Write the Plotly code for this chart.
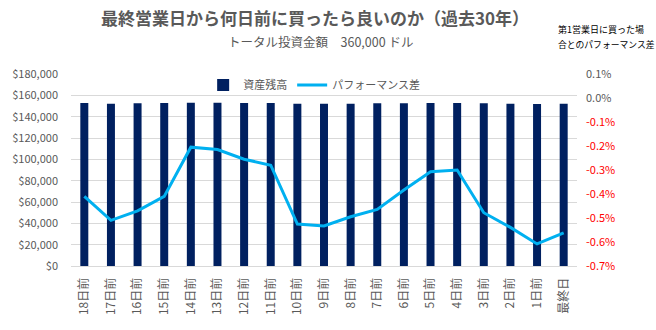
import plotly.graph_objects as go

# Days before the last business day of the month
categories = ["18日前", "17日前", "16日前", "15日前", "14日前", "13日前", "12日前",
              "11日前", "10日前", "9日前", "8日前", "7日前", "6日前", "5日前",
              "4日前", "3日前", "2日前", "1日前", "最終日"]

# Ending balance (USD)
balance = [152700, 152100, 152600, 152700, 153000, 153000, 152900,
           152800, 152000, 152000, 152100, 152500, 152600, 152800,
           152800, 152500, 152100, 151900, 152000]

# Performance gap vs. buying on the 1st business day (%)
perf_gap_pct = [-0.41, -0.51, -0.47, -0.41, -0.205, -0.215, -0.255,
                -0.28, -0.525, -0.533, -0.495, -0.464, -0.383, -0.307,
                -0.30, -0.478, -0.539, -0.608, -0.562]

left_ticks = [0, 20000, 40000, 60000, 80000, 100000, 120000, 140000, 160000, 180000]
right_ticks_pct = [0.1, 0.0, -0.1, -0.2, -0.3, -0.4, -0.5, -0.6, -0.7]

FONT = "Noto Sans CJK JP"
GRAY = "#595959"

# plot area in pixels (for placing the header texts)
L, R, T, B = 63, 79, 74, 64
PW, PH = 656 - L - R, 330 - T - B


def px(x):
    return (x - L) / PW


def py(y):
    return 1 + (T - y) / PH


perf_gap = [v / 100 for v in perf_gap_pct]
right_vals = [v / 100 for v in right_ticks_pct]
right_text = [
    f"<span style='color:#FF0000'>{v:.1f}%</span>" if v < 0 else f"{v:.1f}%"
    for v in right_ticks_pct
]

fig = go.Figure()
fig.add_trace(go.Bar(
    x=categories, y=balance, name="資産残高",
    marker=dict(color="#002060", line=dict(width=0)),
    yaxis="y",
))
fig.add_trace(go.Scatter(
    x=categories, y=perf_gap, name="パフォーマンス差",
    mode="lines", line=dict(color="#00B0F0", width=3),
    yaxis="y2",
))

fig.update_layout(
    width=656, height=330,
    margin=dict(l=L, r=R, t=T, b=B),
    paper_bgcolor="white", plot_bgcolor="white",
    font=dict(family=FONT, size=11, color=GRAY),
    bargap=0.7,
    showlegend=True,
    legend=dict(
        orientation="h", x=px(310), xanchor="center", y=py(85), yanchor="middle",
        bgcolor="rgba(0,0,0,0)", font=dict(size=11, color=GRAY),
        itemwidth=30,
    ),
    xaxis=dict(
        tickangle=-90, showgrid=False, showline=True, linecolor="#D9D9D9",
        linewidth=1, ticks="", tickfont=dict(size=12, color=GRAY),
        ticklabelstandoff=6,
    ),
    yaxis=dict(
        range=[0, 180000], tickvals=left_ticks, tickformat="$,.0f",
        showgrid=True, gridcolor="#D9D9D9", gridwidth=1, zeroline=False,
        ticks="", tickfont=dict(size=11, color=GRAY), ticklabelstandoff=12,
    ),
    yaxis2=dict(
        overlaying="y", side="right", range=[-0.007, 0.001],
        tickvals=right_vals, ticktext=right_text, showgrid=False,
        zeroline=False, ticks="", tickfont=dict(size=11, color=GRAY),
        ticklabelstandoff=8,
    ),
    annotations=[
        dict(text="<b>最終営業日から何日前に買ったら良いのか（過去30年）</b>",
             xref="paper", yref="paper", x=px(311), y=py(17),
             xanchor="center", yanchor="middle", showarrow=False,
             font=dict(size=17, color=GRAY, family=FONT)),
        dict(text="トータル投資金額　360,000 ドル",
             xref="paper", yref="paper", x=px(316), y=py(42),
             xanchor="center", yanchor="middle", showarrow=False,
             font=dict(size=12.5, color=GRAY, family=FONT)),
        dict(text="第1営業日に買った場",
             xref="paper", yref="paper", x=px(556), y=py(29),
             xanchor="left", yanchor="middle", align="left", showarrow=False,
             font=dict(size=9, color="#000000", family=FONT)),
        dict(text="合とのパフォーマンス差",
             xref="paper", yref="paper", x=px(556), y=py(45),
             xanchor="left", yanchor="middle", align="left", showarrow=False,
             font=dict(size=8.8, color="#000000", family=FONT)),
    ],
)

fig.write_html("out.html")
